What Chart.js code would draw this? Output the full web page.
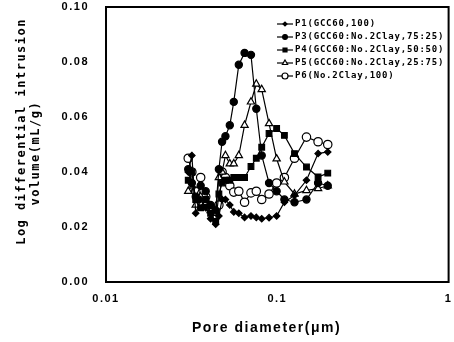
<!DOCTYPE html>
<html>
<head>
<meta charset="utf-8">
<script src="https://cdn.jsdelivr.net/npm/chart.js@4.4.1/dist/chart.umd.min.js"></script>
<style>
  html, body { margin: 0; padding: 0; background: #fff; }
  #wrap { width: 454px; height: 342px; }
</style>
</head>
<body>
<div id="wrap"><canvas id="myChart"></canvas></div>
<script>
// pore diameters (um), shared by every sample
const diametros = [0.0302, 0.0317, 0.0334, 0.0357, 0.0382, 0.0408, 0.0437, 0.0456, 0.0476, 0.0498, 0.0528, 0.0557,
                   0.0596, 0.0644, 0.0702, 0.0754, 0.0811, 0.0895, 0.0991, 0.110, 0.126, 0.148, 0.173, 0.197]

// log differential intrusion (mL/g) for each sample
const p1 = [0.040, 0.046, 0.025, 0.030, 0.027, 0.023, 0.021, 0.024, 0.030, 0.030, 0.028, 0.0255,
            0.025, 0.0235, 0.024, 0.0235, 0.023, 0.0234, 0.024, 0.029, 0.0315, 0.037, 0.0467, 0.0473]
const p3 = [0.041, 0.036, 0.031, 0.035, 0.033, 0.028, 0.026, 0.041, 0.051, 0.053, 0.057, 0.0655,
            0.079, 0.0833, 0.0826, 0.063, 0.046, 0.036, 0.033, 0.030, 0.029, 0.030, 0.036, 0.035]
const p4 = [0.037, 0.040, 0.030, 0.027, 0.030, 0.025, 0.022, 0.032, 0.036, 0.037, 0.037, 0.038,
            0.038, 0.038, 0.042, 0.045, 0.049, 0.054, 0.0558, 0.0533, 0.0467, 0.0418, 0.0382, 0.0396]
const p5 = [0.033, 0.035, 0.028, 0.031, 0.029, 0.026, 0.025, 0.038, 0.040, 0.046, 0.043, 0.043,
            0.046, 0.057, 0.0655, 0.072, 0.070, 0.0576, 0.0448, 0.0364, 0.032, 0.0333, 0.034, 0.035]
const p6 = [0.045, 0.040, 0.033, 0.038, 0.031, 0.027, 0.024, 0.028, 0.040, 0.038, 0.035, 0.0327,
            0.033, 0.029, 0.0324, 0.033, 0.030, 0.032, 0.036, 0.038, 0.045, 0.0527, 0.051, 0.050]

const etiquetas = ['P1(GCC60,100)', 'P3(GCC60:No.2Clay,75:25)', 'P4(GCC60:No.2Clay,50:50)',
                   'P5(GCC60:No.2Clay,25:75)', 'P6(No.2Clay,100)']
const ticksX = [0.01, 0.1, 1]

function puntos(valores) {
    return diametros.map((d, i) => ({ x: d, y: valores[i] }))
}

function serie(label, valores, estilo, radio, relleno) {
    return {
        label: label,
        data: puntos(valores),
        borderColor: '#000',
        borderWidth: 1.2,
        backgroundColor: relleno,
        pointStyle: estilo,
        pointRadius: radio,
        pointBackgroundColor: relleno,
        pointBorderColor: '#000',
        pointBorderWidth: 1.2,
        tension: 0
    }
}

// canvas letter spacing (the original uses a wide gothic font)
const espaciado = {
    id: 'espaciado',
    beforeLayout(chart) { chart.ctx.letterSpacing = '1.5px' },
    beforeDraw(chart) { chart.ctx.letterSpacing = '1.5px' }
}

// frame around the plot area
const marco = {
    id: 'marco',
    afterDraw(chart) {
        const a = chart.chartArea, ctx = chart.ctx
        ctx.save()
        ctx.strokeStyle = '#000'
        ctx.lineWidth = 2
        ctx.strokeRect(a.left, a.top, a.right - a.left, a.bottom - a.top)
        ctx.restore()
    }
}

// legend drawn inside the plot, upper right
const leyenda = {
    id: 'leyenda',
    afterDatasetsDraw(chart) {
        const ctx = chart.ctx
        const a = chart.chartArea
        const x0 = a.left + 171
        const y0 = a.top + 17
        ctx.save()
        ctx.letterSpacing = '0.8px'
        ctx.font = 'bold 9px "DejaVu Sans Mono"'
        ctx.textBaseline = 'middle'
        chart.data.datasets.forEach((ds, i) => {
            const y = y0 + i * 13
            ctx.strokeStyle = '#000'
            ctx.lineWidth = 1.2
            ctx.beginPath()
            ctx.moveTo(x0, y)
            ctx.lineTo(x0 + 16, y)
            ctx.stroke()
            ctx.fillStyle = ds.pointBackgroundColor
            const opts = { pointStyle: ds.pointStyle, radius: Math.max(2, ds.pointRadius - 1.2), rotation: 0, borderWidth: 1 }
            if (Chart.helpers && Chart.helpers.drawPoint) {
                Chart.helpers.drawPoint(ctx, opts, x0 + 8, y)
            }
            ctx.fillStyle = '#000'
            ctx.fillText(ds.label, x0 + 18, y)
        })
        ctx.restore()
    }
}

// invisible tick marks: they only make the gap between axis and labels
const rejilla = (largo) => ({
    display: true,
    drawOnChartArea: false,
    drawTicks: true,
    tickLength: largo,
    color: 'rgba(0,0,0,0)'
})

function grafico_poros() {
    const ctx = document.getElementById('myChart')

    new Chart(ctx, {
        type: 'line',
        data: {
            datasets: [
                serie(etiquetas[0], p1, 'rectRot', 3.2, '#000'),
                serie(etiquetas[1], p3, 'circle', 3.6, '#000'),
                serie(etiquetas[2], p4, 'rect', 4, '#000'),
                serie(etiquetas[3], p5, 'triangle', 4.2, '#fff'),
                serie(etiquetas[4], p6, 'circle', 4.2, '#fff')
            ]
        },
        options: {
            responsive: true,
            maintainAspectRatio: false,
            animation: false,
            layout: { padding: { left: 15, right: 0, top: 7, bottom: 5 } },
            plugins: {
                legend: { display: false },
                tooltip: { enabled: false }
            },
            scales: {
                x: {
                    type: 'logarithmic',
                    min: 0.01,
                    max: 1,
                    afterBuildTicks(scale) {
                        scale.ticks = ticksX.map(v => ({ value: v }))
                    },
                    grid: rejilla(10),
                    border: { display: false },
                    ticks: {
                        color: '#000',
                        padding: 0,
                        maxRotation: 0,
                        font: { family: 'Liberation Sans', size: 11, weight: 'bold' },
                        callback: v => String(v)
                    },
                    title: {
                        display: true,
                        text: 'Pore diameter(μm)    ',
                        color: '#000',
                        padding: { top: 15, bottom: 0 },
                        font: { family: 'Liberation Sans', size: 14, weight: 'bold' }
                    }
                },
                y: {
                    min: 0,
                    max: 0.1,
                    grid: rejilla(17),
                    border: { display: false },
                    ticks: {
                        color: '#000',
                        stepSize: 0.02,
                        padding: 0,
                        font: { family: 'Liberation Sans', size: 11, weight: 'bold' },
                        callback: v => v.toFixed(2)
                    },
                    title: {
                        display: true,
                        text: ['   Log differential intrusion', 'volume(mL/g)  '],
                        color: '#000',
                        padding: { top: 0, bottom: 19 },
                        font: { family: 'DejaVu Sans Mono', size: 12, weight: 'bold', lineHeight: 1.15 }
                    }
                }
            }
        },
        plugins: [espaciado, marco, leyenda]
    })
}

grafico_poros()
</script>
</body>
</html>
